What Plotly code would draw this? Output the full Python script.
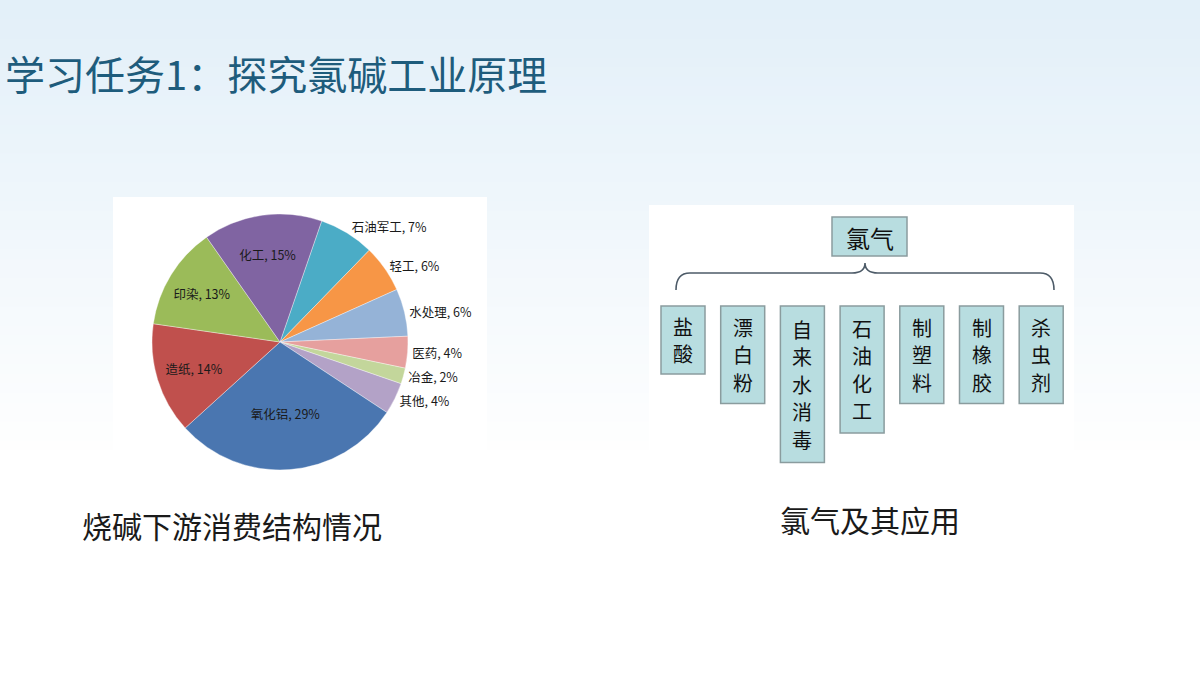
import plotly.graph_objects as go

# ---------------- data ----------------
pie_labels = ["石油军工", "轻工", "水处理", "医药", "冶金", "其他", "氧化铝", "造纸", "印染", "化工"]
pie_values = [7, 6, 6, 4, 2, 4, 29, 14, 13, 15]
pie_text_pos = ["outside", "outside", "outside", "outside", "outside", "outside",
                "inside", "inside", "inside", "inside"]
pie_colors = ["#4BACC6", "#F79646", "#95B3D7", "#E6A09E", "#C3D69B", "#B3A2C7",
              "#4A76B0", "#C0504D", "#9BBB59", "#8064A2"]

root_label = "氯气"
child_labels = ["盐酸", "漂白粉", "自来水消毒", "石油化工", "制塑料", "制橡胶", "杀虫剂"]

title_text = "学习任务1：探究氯碱工业原理"
caption_left = "烧碱下游消费结构情况"
caption_right = "氯气及其应用"

# ---------------- helpers (pixel -> paper) ----------------
W, H = 1200, 675
def px(x):
    return x / W
def py(y):
    return 1 - y / H

FONT = "Noto Sans CJK SC"
shapes = []
annotations = []

def add_text(text, x, y, size, color, xanchor="center"):
    annotations.append(dict(text=text, x=px(x), y=py(y), xref="paper", yref="paper",
                            xanchor=xanchor, yanchor="middle", showarrow=False,
                            font=dict(family=FONT, size=size, color=color)))

# background gradient (light blue at top fading to white)
top_rgb = (227, 240, 249)
n_bands = 48
band_h = 460 / n_bands
for i in range(n_bands):
    t = i / (n_bands - 1)
    r = int(top_rgb[0] + (255 - top_rgb[0]) * t)
    g = int(top_rgb[1] + (255 - top_rgb[1]) * t)
    b = int(top_rgb[2] + (255 - top_rgb[2]) * t)
    shapes.append(dict(type="rect", xref="paper", yref="paper",
                       x0=0, x1=1, y0=py(i * band_h + band_h + 1), y1=py(i * band_h),
                       fillcolor=f"rgb({r},{g},{b})", line=dict(width=0), layer="below"))

# white panels
shapes.append(dict(type="rect", xref="paper", yref="paper", x0=px(113), x1=px(487),
                   y0=py(470), y1=py(197), fillcolor="white", line=dict(width=0), layer="below"))
shapes.append(dict(type="rect", xref="paper", yref="paper", x0=px(649), x1=px(1074),
                   y0=py(465), y1=py(205), fillcolor="white", line=dict(width=0), layer="below"))

# ---------------- pie ----------------
cx, cy, rad = 280, 342, 128
pie = go.Pie(
    labels=pie_labels, values=pie_values, sort=False, direction="clockwise",
    rotation=19,
    marker=dict(colors=pie_colors, line=dict(color="rgba(255,255,255,0.6)", width=0.6)),
    texttemplate="%{label}, %{value}%", textposition=pie_text_pos,
    insidetextorientation="horizontal",
    textfont=dict(family=FONT, size=12.5, color="#1a1a1a"),
    outsidetextfont=dict(family=FONT, size=12.5, color="#1a1a1a"),
    insidetextfont=dict(family=FONT, size=12.5, color="#1a1a1a"),
    domain=dict(x=[px(cx - rad), px(cx + rad)], y=[py(cy + rad), py(cy - rad)]),
    showlegend=False, hoverinfo="label+percent",
)

# ---------------- tree diagram ----------------
box_fill = "#B8DDE0"
box_line = "#8A9C9E"
# root box
shapes.append(dict(type="rect", xref="paper", yref="paper", x0=px(832), x1=px(907),
                   y0=py(256), y1=py(217), fillcolor=box_fill, line=dict(color=box_line, width=1.5)))
add_text(root_label, 869.5, 237, 24, "#111")

def P(x, y):
    return f"{px(x)},{py(y)}"
path = (f"M {P(676,290)} Q {P(676,273)} {P(690,273)} L {P(852,273)} "
        f"Q {P(865,273)} {P(865,263)} Q {P(865,273)} {P(878,273)} "
        f"L {P(1040,273)} Q {P(1054,273)} {P(1054,290)}")
shapes.append(dict(type="path", xref="paper", yref="paper", path=path,
                   line=dict(color="#4D5B68", width=1.6)))

# child boxes
child_x0 = 661
child_step = 59.7
box_w = 44
box_top = 306
char_step = 27.6
for i, lab in enumerate(child_labels):
    n = len(lab)
    x0 = child_x0 + i * child_step
    h = 29.5 * n + 9
    y1 = min(box_top + h, 464)
    shapes.append(dict(type="rect", xref="paper", yref="paper", x0=px(x0), x1=px(x0 + box_w),
                       y0=py(y1), y1=py(box_top), fillcolor=box_fill,
                       line=dict(color=box_line, width=1.5)))
    ctr = box_top + h / 2
    start = ctr - (n - 1) * char_step / 2
    for k, ch in enumerate(lab):
        add_text(ch, x0 + box_w / 2, start + k * char_step, 20, "#111")

# ---------------- titles / captions ----------------
add_text(title_text, 3, 73, 40, "#1E5C7C", xanchor="left")
add_text(caption_left, 80, 525, 30, "#1a1a1a", xanchor="left")
add_text(caption_right, 870, 519, 30, "#1a1a1a")

fig = go.Figure(pie)
fig.update_layout(
    width=W, height=H, margin=dict(l=0, r=0, t=0, b=0),
    paper_bgcolor="white", plot_bgcolor="white",
    shapes=shapes, annotations=annotations,
)
fig.write_html("out.html", config={"displayModeBar": False},
               post_script="document.body.style.margin='0';document.body.style.overflow='hidden';")
